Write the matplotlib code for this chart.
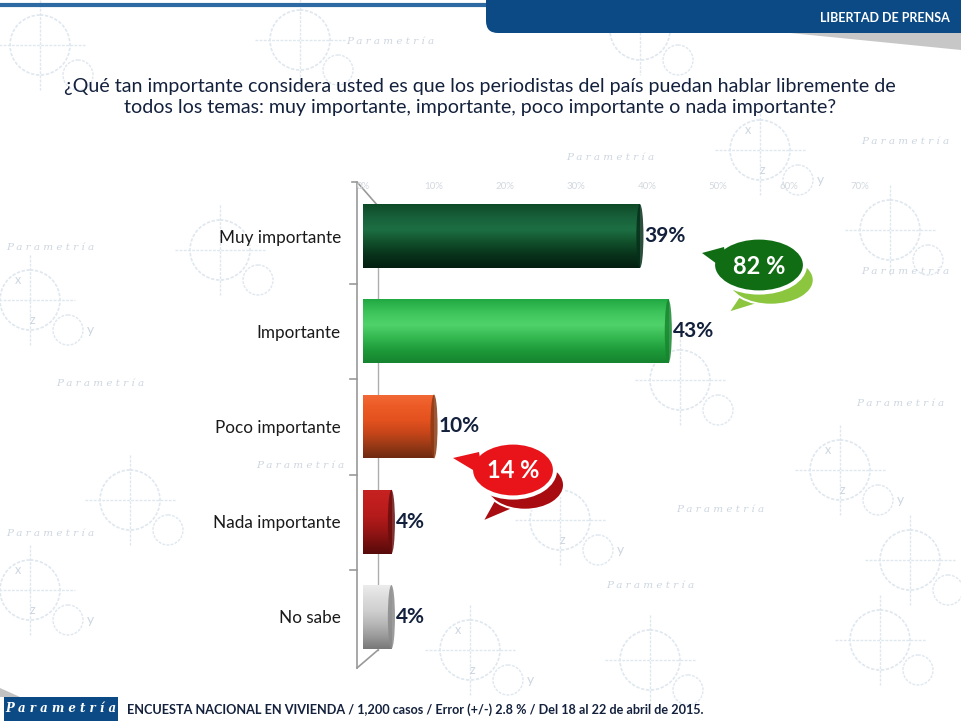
import matplotlib
matplotlib.use('Agg')
import matplotlib.pyplot as plt
import numpy as np
from matplotlib.patches import Ellipse, Polygon, FancyBboxPatch, Rectangle, Circle
from matplotlib.colors import LinearSegmentedColormap

# ---------------- data ----------------
categories = ['Muy importante', 'Importante', 'Poco importante', 'Nada importante', 'No sabe']
values = [39, 43, 10, 4, 4]
tick_values = [0, 10, 20, 30, 40, 50, 60, 70]
tick_labels = ['0%', '10%', '20%', '30%', '40%', '50%', '60%', '70%']
title_text = ('¿Qué tan importante considera usted es que los periodistas del país puedan hablar libremente de\n'
              'todos los temas: muy importante, importante, poco importante o nada importante?')
banner_text = 'LIBERTAD DE PRENSA'
footer_text = 'ENCUESTA NACIONAL EN VIVIENDA / 1,200 casos / Error (+/-) 2.8 % / Del 18 al 22 de abril de 2015.'
brand_text = 'P a r a m e t r í a'

important_total = values[0] + values[1]
unimportant_total = values[2] + values[3]

# gradient profiles (top -> bottom) for each cylinder
bar_gradients = [
    ['#0f4a27', '#17603a', '#1d6f43', '#114f2b', '#08321a', '#041f10'],
    ['#22a843', '#3cc45a', '#50d26b', '#34b850', '#1e9a3a', '#15842e'],
    ['#f26a36', '#ec5a26', '#e4521f', '#c8461a', '#9a3a16', '#6e2a10'],
    ['#c62222', '#c01e1e', '#b51b1b', '#9c1616', '#7a1010', '#560a0a'],
    ['#ececec', '#dcdcdc', '#cfcfcf', '#b8b8b8', '#9a9a9a', '#787878'],
]
cap_colors = ['#06301a', '#17862f', '#8a3a14', '#6a0e0e', '#8a8a8a']

plt.rcParams['font.family'] = ['Lato', 'DejaVu Sans']

W, H = 961, 721
fig = plt.figure(figsize=(W / 100, H / 100), dpi=100)
fig.patch.set_facecolor('white')

# ---------------- background / decoration layer ----------------
deco = fig.add_axes([0, 0, 1, 1], zorder=0)
deco.set_xlim(0, W)
deco.set_ylim(H, 0)
deco.axis('off')

wm = '#dfe7ef'
wm_text = '#cdd6e0'
# watermark motifs (circle + cross diagrams): (x, y, with_letters)
motifs = [(40, 45, False), (300, 40, False), (640, 30, False), (760, 150, True),
          (890, 230, False), (30, 300, True), (130, 500, False), (30, 590, True),
          (910, 560, False), (680, 380, False), (840, 470, True), (470, 650, True),
          (650, 660, False), (880, 640, False), (220, 250, False), (560, 520, True)]
for (mx, my, letters) in motifs:
    deco.add_patch(Circle((mx, my), 30, fill=False, ec=wm, lw=1.2, ls=(0, (2, 1))))
    deco.add_patch(Circle((mx + 38, my + 30), 15, fill=False, ec=wm, lw=1.0, ls=(0, (2, 1))))
    deco.plot([mx - 45, mx + 45], [my, my], color=wm, lw=1.0, ls=(0, (2, 1)))
    deco.plot([mx, mx], [my - 45, my + 45], color=wm, lw=1.0, ls=(0, (2, 1)))
    if letters:
        deco.text(mx - 12, my - 20, 'x', color=wm_text, fontsize=9, ha='center', va='center')
        deco.text(mx + 2, my + 20, 'z', color=wm_text, fontsize=9, ha='center', va='center')
        deco.text(mx + 60, my + 30, 'y', color=wm_text, fontsize=10, ha='center', va='center')
wm_words = [(390, 42), (610, 157), (905, 142), (50, 247), (100, 383), (300, 465),
            (650, 585), (720, 510), (900, 403), (50, 533), (905, 272), (600, 330)]
for (tx, ty) in wm_words:
    deco.text(tx, ty, 'P a r a m e t r í a', color=wm_text, fontsize=7.5, style='italic',
              ha='center', va='center', family=['DejaVu Serif'])

# top banner
deco.plot([0, 500], [4.5, 4.5], color='#2d6aa3', lw=3, solid_capstyle='butt')
deco.add_patch(Polygon([[790, 33], [961, 33], [961, 50]], closed=True, fc='#9a9a9a', ec='none', alpha=0.55))
deco.add_patch(FancyBboxPatch((486, -30), 520, 63, boxstyle='round,pad=0,rounding_size=12',
                              fc='#0c4a85', ec='none', zorder=5))
deco.text(950, 17.5, banner_text, color='white', fontsize=9.0, fontweight='bold',
          ha='right', va='center', zorder=6)

# footer
deco.add_patch(Polygon([[0, 688], [20, 697], [0, 697]], closed=True, fc='#9a9a9a', ec='none', alpha=0.6))
deco.add_patch(Rectangle((4, 697), 114, 24, fc='#0c4a85', ec='none'))
deco.text(61, 709, brand_text, color='white', fontsize=8.5, style='italic', fontweight='bold',
          ha='center', va='center', family=['DejaVu Serif'])
deco.text(127, 709.5, footer_text, color='#14213d', fontsize=9.1, fontweight='bold',
          ha='left', va='center')

# title
deco.text(480, 97, title_text, color='#14213d', fontsize=14.1, ha='center', va='center',
          linespacing=1.35)

# 3D axis frame
frame_c = '#9a9a9a'
deco.plot([352, 357, 357, 378], [182, 182, 182, 206], color=frame_c, lw=1.2)
deco.plot([357, 357], [182, 668], color=frame_c, lw=1.2)
deco.plot([378, 378], [206, 650], color=frame_c, lw=1.0, alpha=0.8)
deco.plot([357, 378], [668, 650], color=frame_c, lw=1.2)
for ty in [283.5, 378.5, 474.5, 569.5]:
    deco.plot([350, 357], [ty, ty], color=frame_c, lw=1.2)

# ---------------- main chart ----------------
px_per_pct = 7.1
x0_px = 363
xmax = 80
ax_left = x0_px / W
ax_width = xmax * px_per_pct / W
ax_top_px = 188.4
ax_bot_px = 664.6
ax = fig.add_axes([ax_left, (H - ax_bot_px) / H, ax_width, (ax_bot_px - ax_top_px) / H], zorder=1)
ax.set_facecolor('none')
ax.set_xlim(0, xmax)
ax.set_ylim(len(categories) - 0.5, -0.5)
for s in ax.spines.values():
    s.set_visible(False)

ypos = np.arange(len(categories))
bar_h = 0.67
bars = ax.barh(ypos, values, height=bar_h, color='none', edgecolor='none')

for i, (b, v) in enumerate(zip(bars, values)):
    cmap = LinearSegmentedColormap.from_list('g%d' % i, bar_gradients[i])
    grad = np.linspace(0, 1, 200).reshape(-1, 1)
    im = ax.imshow(grad, cmap=cmap, aspect='auto', interpolation='bicubic',
                   extent=(0, v, i + bar_h / 2, i - bar_h / 2), zorder=2)
    im.set_clip_path(b)
    # right end cap of the cylinder
    ax.add_patch(Ellipse((v, i), 1.0, bar_h, fc=cap_colors[i], ec='none', zorder=3, alpha=0.85))
    ax.text(v + 0.6, i, '%d%%' % v, color='#14213d', fontsize=15, fontweight='bold',
            ha='left', va='center', zorder=4)

ax.set_yticks(ypos)
ax.set_yticklabels(categories, fontsize=12.3, color='#1a1a1a')
ax.tick_params(axis='y', length=0, pad=16)
ax.xaxis.tick_top()
ax.set_xticks(tick_values)
ax.set_xticklabels(tick_labels, fontsize=7, color='#d2d8de')
ax.tick_params(axis='x', length=0, pad=-2)
ax.set_xlim(0, xmax)

# ---------------- callout bubbles ----------------
over = fig.add_axes([0, 0, 1, 1], zorder=5)
over.set_xlim(0, W)
over.set_ylim(H, 0)
over.axis('off')
over.patch.set_alpha(0)


def bubble(cx, cy, w, h, tail, shadow_c, shadow_tail, main_c, text):
    over.add_patch(Polygon(shadow_tail, closed=True, fc=shadow_c, ec='white', lw=1.5, zorder=1))
    over.add_patch(Ellipse((cx + 12, cy + 15), w * 0.93, h * 0.9, fc=shadow_c, ec='white', lw=1.5, zorder=1))
    over.add_patch(Polygon(tail, closed=True, fc=main_c, ec='white', lw=3, zorder=2))
    over.add_patch(Ellipse((cx, cy), w, h, fc=main_c, ec='white', lw=3, zorder=3))
    over.add_patch(Polygon(tail, closed=True, fc=main_c, ec='none', zorder=4))
    over.text(cx, cy + 1, text, color='white', fontsize=17, fontweight='bold',
              ha='center', va='center', zorder=5)


bubble(759, 265, 92, 55,
       [[702, 253], [724, 247], [728, 272]],
       '#8cc63f', [[742, 292], [770, 300], [728, 313]],
       '#116d14', '%d %%' % important_total)
bubble(513, 470, 84, 55,
       [[453, 458], [479, 452], [483, 476]],
       '#a80c10', [[496, 497], [522, 505], [482, 522]],
       '#e8141a', '%d %%' % unimportant_total)

fig.savefig('out.png', dpi=100, facecolor='white')
